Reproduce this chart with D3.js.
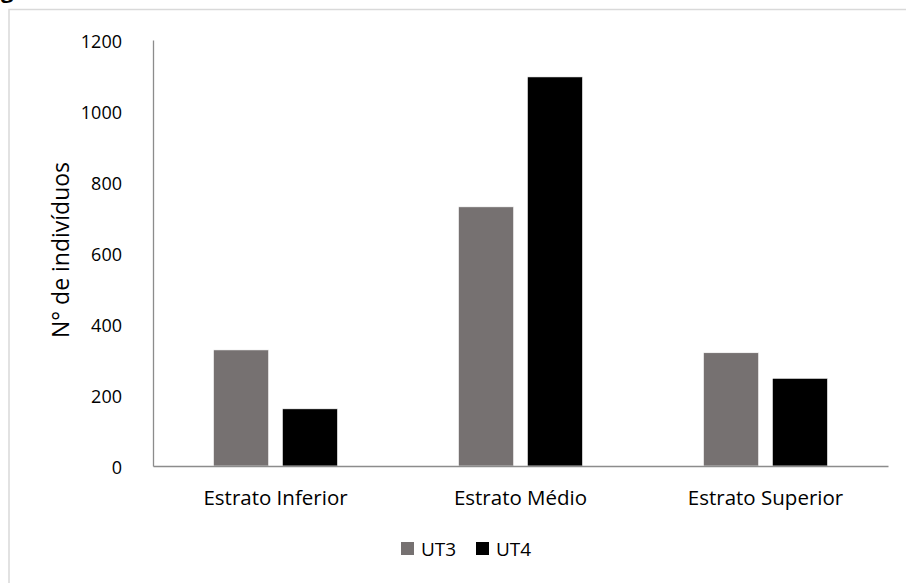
<!DOCTYPE html>
<html>
<head>
<meta charset="utf-8">
<script src="https://cdn.jsdelivr.net/npm/d3@7"></script>
<style>
  html, body { margin: 0; padding: 0; background: #fff; }
  svg { display: block; }
  text { font-family: "Open Sans", "Noto Sans", sans-serif; fill: #000; }
</style>
</head>
<body>
<svg id="chart" width="906" height="583"></svg>
<script>
// Número de indivíduos por estrato
const categories = ["Estrato Inferior", "Estrato Médio", "Estrato Superior"];
const seriesNames = ["UT3", "UT4"];
const ut3Values = [327, 730, 319];
const ut4Values = [161, 1096, 247];
const yTicks = [0, 200, 400, 600, 800, 1000, 1200];
const seriesColors = ["#767171", "#000000"];

const rows = categories.map((c, i) => ({ category: c, values: [ut3Values[i], ut4Values[i]] }));

const svg = d3.select("#chart");

// Fragment of the figure caption above the chart frame
svg.append("text")
  .attr("x", 1).attr("y", -2)
  .style("font-size", "22px").style("font-weight", "bold")
  .text("g");

// Chart frame
svg.append("rect")
  .attr("x", 9).attr("y", 9.5)
  .attr("width", 920).attr("height", 600)
  .attr("fill", "none").attr("stroke", "#d9d9d9").attr("stroke-width", 1.5);

const plot = { left: 153, right: 888, top: 40, bottom: 466 };

const x0 = d3.scaleBand().domain(categories).range([plot.left, plot.right]).padding(0);
const x1 = d3.scaleBand().domain(seriesNames).range([-62, 62]).paddingInner(0.2).paddingOuter(0);
const y = d3.scaleLinear().domain([0, 1200]).range([plot.bottom, plot.top]);
const color = d3.scaleOrdinal().domain(seriesNames).range(seriesColors);

// Bars
const groups = svg.append("g").selectAll("g")
  .data(rows).join("g")
  .attr("transform", d => `translate(${x0(d.category) + x0.bandwidth() / 2},0)`);

groups.selectAll("rect")
  .data(d => d.values.map((v, j) => ({ key: seriesNames[j], value: v })))
  .join("rect")
  .attr("x", d => x1(d.key))
  .attr("y", d => y(d.value))
  .attr("width", x1.bandwidth())
  .attr("height", d => y(0) - y(d.value))
  .attr("fill", d => color(d.key))
  .attr("stroke", "#ffffff").attr("stroke-width", 0.6);

// Y axis (line + labels, no tick marks)
const yAxis = svg.append("g")
  .attr("transform", `translate(${plot.left},0)`)
  .call(d3.axisLeft(y).tickValues(yTicks).tickSize(0).tickPadding(31).tickFormat(d3.format("d")));
yAxis.select(".domain").attr("stroke", "#8c8c8c").attr("stroke-width", 1.3);
yAxis.selectAll("text")
  .style("font-size", "18px")
  .style("font-family", "'Open Sans', sans-serif")
  .attr("fill", "#000")
  .attr("dy", "0.4em");

// X axis baseline and category labels
const xAxis = svg.append("g")
  .attr("transform", `translate(0,${plot.bottom})`)
  .call(d3.axisBottom(x0).tickSize(0).tickPadding(24).tickSizeOuter(0));
xAxis.select(".domain").attr("stroke", "#8c8c8c").attr("stroke-width", 1.5);
xAxis.selectAll("text")
  .style("font-size", "20.5px")
  .style("font-family", "'Open Sans', sans-serif")
  .attr("fill", "#000");

// Y axis title
svg.append("text")
  .attr("transform", `translate(69,${(plot.top + plot.bottom) / 2 - 3}) rotate(-90)`)
  .attr("text-anchor", "middle")
  .style("font-size", "23px")
  .text("N° de indivíduos");

// Legend
const legendItems = [
  { name: "UT3", sx: 401, tx: 421 },
  { name: "UT4", sx: 476, tx: 496 }
];
const legend = svg.append("g");
legend.selectAll("rect")
  .data(legendItems).join("rect")
  .attr("x", d => d.sx).attr("y", 542)
  .attr("width", 13).attr("height", 13)
  .attr("fill", d => color(d.name));
legend.selectAll("text")
  .data(legendItems).join("text")
  .attr("x", d => d.tx).attr("y", 556)
  .style("font-size", "19px")
  .text(d => d.name);
</script>
</body>
</html>
